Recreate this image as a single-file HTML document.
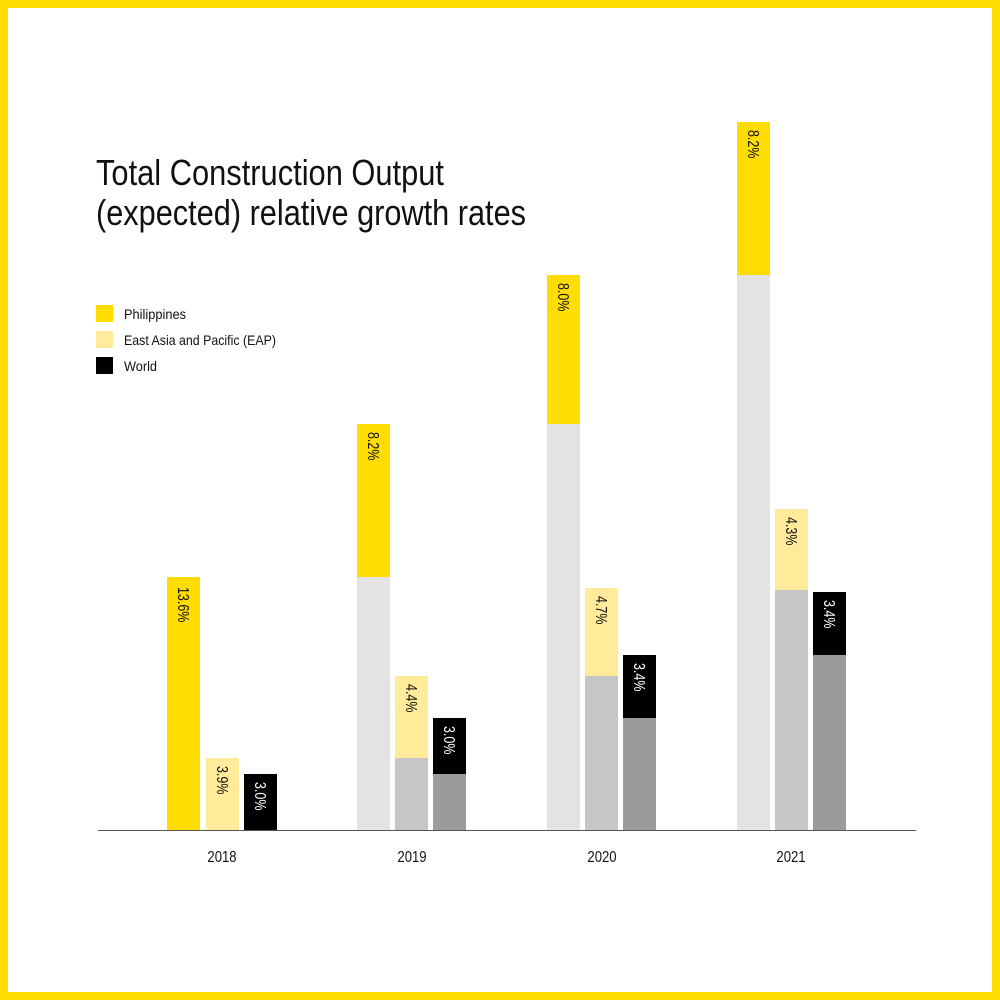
<!DOCTYPE html>
<html><head><meta charset="utf-8"><style>
html,body{margin:0;padding:0;background:#fff}
svg{display:block}
text{font-family:"Liberation Sans Narrow","Liberation Sans",sans-serif}
</style></head><body>
<svg width="1000" height="1000" viewBox="0 0 1000 1000" xmlns="http://www.w3.org/2000/svg">
<rect x="4" y="4" width="992" height="992" fill="#fff" stroke="#FFDD00" stroke-width="8"/>
<text x="96" y="185" font-size="36" fill="#111" textLength="348" lengthAdjust="spacingAndGlyphs">Total Construction Output</text>
<text x="96" y="225" font-size="36" fill="#111" textLength="430" lengthAdjust="spacingAndGlyphs">(expected) relative growth rates</text>
<rect x="96" y="305" width="17" height="17" fill="#FFDD00"/>
<rect x="96" y="331" width="17" height="17" fill="#FFEB99"/>
<rect x="96" y="357" width="17" height="17" fill="#000"/>
<text x="124" y="319" font-size="14" fill="#111" textLength="62" lengthAdjust="spacingAndGlyphs">Philippines</text>
<text x="124" y="345" font-size="14" fill="#111" textLength="152" lengthAdjust="spacingAndGlyphs">East Asia and Pacific (EAP)</text>
<text x="124" y="371" font-size="14" fill="#111" textLength="33" lengthAdjust="spacingAndGlyphs">World</text>
<!-- 2018 -->
<rect x="167" y="577" width="33" height="253" fill="#FFDD00"/>
<rect x="206" y="758" width="33" height="72" fill="#FFEB99"/>
<rect x="244" y="774" width="33" height="56" fill="#000"/>
<!-- 2019 -->
<rect x="357" y="577" width="33" height="253" fill="#E3E3E3"/>
<rect x="357" y="424" width="33" height="153" fill="#FFDD00"/>
<rect x="395" y="758" width="33" height="72" fill="#C6C6C6"/>
<rect x="395" y="676" width="33" height="82" fill="#FFEB99"/>
<rect x="433" y="774" width="33" height="56" fill="#9B9B9B"/>
<rect x="433" y="718" width="33" height="56" fill="#000"/>
<!-- 2020 -->
<rect x="547" y="424" width="33" height="406" fill="#E3E3E3"/>
<rect x="547" y="275" width="33" height="149" fill="#FFDD00"/>
<rect x="585" y="676" width="33" height="154" fill="#C6C6C6"/>
<rect x="585" y="588" width="33" height="88" fill="#FFEB99"/>
<rect x="623" y="718" width="33" height="112" fill="#9B9B9B"/>
<rect x="623" y="655" width="33" height="63" fill="#000"/>
<!-- 2021 -->
<rect x="737" y="275" width="33" height="555" fill="#E3E3E3"/>
<rect x="737" y="122" width="33" height="153" fill="#FFDD00"/>
<rect x="775" y="590" width="33" height="240" fill="#C6C6C6"/>
<rect x="775" y="509" width="33" height="81" fill="#FFEB99"/>
<rect x="813" y="655" width="33" height="175" fill="#9B9B9B"/>
<rect x="813" y="592" width="33" height="63" fill="#000"/>
<line x1="98" y1="830.5" x2="916" y2="830.5" stroke="#555" stroke-width="1"/>
<g font-size="16">
<text transform="translate(178,587) rotate(90) scale(0.78,1)" fill="#111">13.6%</text>
<text transform="translate(217,766) rotate(90) scale(0.78,1)" fill="#111">3.9%</text>
<text transform="translate(255,782) rotate(90) scale(0.78,1)" fill="#fff">3.0%</text>
<text transform="translate(368,432) rotate(90) scale(0.78,1)" fill="#111">8.2%</text>
<text transform="translate(406,684) rotate(90) scale(0.78,1)" fill="#111">4.4%</text>
<text transform="translate(444,726) rotate(90) scale(0.78,1)" fill="#fff">3.0%</text>
<text transform="translate(558,283) rotate(90) scale(0.78,1)" fill="#111">8.0%</text>
<text transform="translate(596,596) rotate(90) scale(0.78,1)" fill="#111">4.7%</text>
<text transform="translate(634,663) rotate(90) scale(0.78,1)" fill="#fff">3.4%</text>
<text transform="translate(748,130) rotate(90) scale(0.78,1)" fill="#111">8.2%</text>
<text transform="translate(786,517) rotate(90) scale(0.78,1)" fill="#111">4.3%</text>
<text transform="translate(824,600) rotate(90) scale(0.78,1)" fill="#fff">3.4%</text>
</g>
<g font-size="16" fill="#111" text-anchor="middle">
<text transform="translate(222,862) scale(0.82,1)">2018</text>
<text transform="translate(412,862) scale(0.82,1)">2019</text>
<text transform="translate(602,862) scale(0.82,1)">2020</text>
<text transform="translate(791,862) scale(0.82,1)">2021</text>
</g>
</svg>
</body></html>
